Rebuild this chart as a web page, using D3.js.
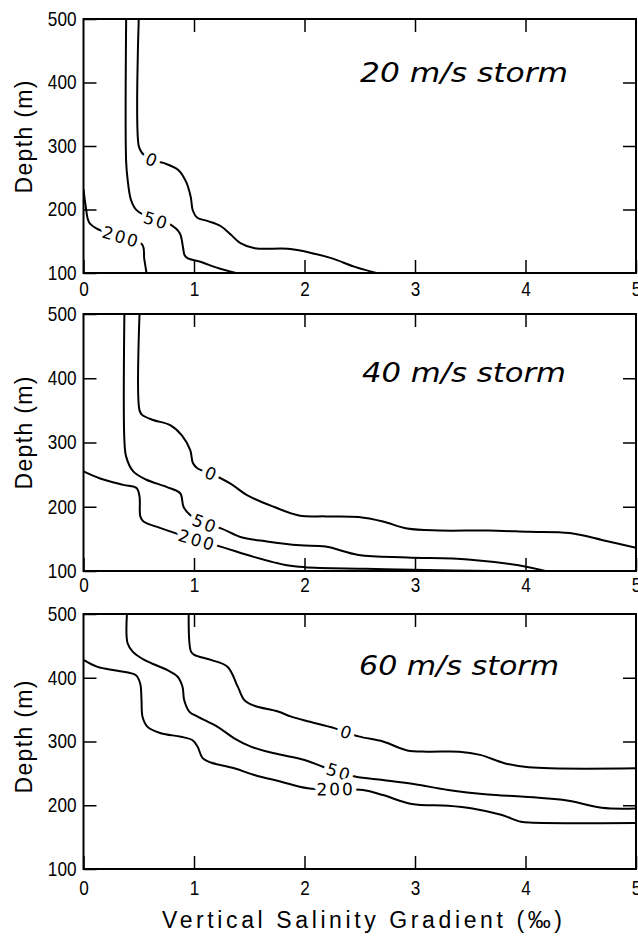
<!DOCTYPE html>
<html><head><meta charset="utf-8">
<script src="https://cdn.jsdelivr.net/npm/d3@7"></script>
<style>body{margin:0;background:#fff}svg{display:block}</style>
</head><body>
<svg id="chart" width="638" height="939"></svg>
<script>
// ---------- data ----------
const xTicks = [0, 1, 2, 3, 4, 5];
const yTicks = [100, 200, 300, 400, 500];
const stormTitles = ["20 m/s storm", "40 m/s storm", "60 m/s storm"];
const contourNames = ["0", "50", "200"];
const xTitle = "Vertical Salinity Gradient (\u2030)";
const yTitle = "Depth (m)";

// [gradient, depth]
const storm20_c0 = [[0.50,500],[0.50,300],[0.53,289],[0.62,278],[0.73,273],[0.86,262],[0.93,243],[0.97,220],[0.99,198],[1.03,187],[1.12,182],[1.24,174],[1.33,161],[1.42,147],[1.55,139],[1.85,138],[2.05,132],[2.25,123],[2.45,110],[2.65,100]];
const storm20_c50 = [[0.386,500],[0.386,275],[0.40,246],[0.43,215],[0.48,199],[0.64,184],[0.78,177],[0.87,163],[0.90,141],[0.915,128],[0.945,123],[1.05,118],[1.23,107],[1.38,100]];
const storm20_c200 = [[0.00,232],[0.02,205],[0.05,180],[0.12,170],[0.34,157],[0.53,145],[0.55,122],[0.57,100]];

const storm40_c0 = [[0.507,500],[0.507,350],[0.53,343],[0.63,335],[0.785,327],[0.89,311],[0.966,288],[0.99,268],[1.03,260],[1.16,251],[1.33,236],[1.48,218],[1.72,200],[1.96,186],[2.19,185],[2.49,184],[2.71,177],[2.93,166],[3.22,163],[3.66,163],[4.03,161],[4.40,159],[4.70,148],[5.00,136]];
const storm40_c50 = [[0.37,500],[0.37,304],[0.386,278],[0.45,255],[0.57,242],[0.75,231],[0.875,221],[0.905,200],[0.965,187],[1.10,174],[1.25,166],[1.42,153],[1.66,146],[1.96,140],[2.19,138],[2.49,125],[2.93,121],[3.48,118],[4.03,106],[4.18,100]];
const storm40_c200 = [[0.00,255],[0.15,244],[0.36,234],[0.48,229],[0.507,216],[0.514,185],[0.543,177],[0.66,169],[1.03,148],[1.24,138],[1.54,122],[1.84,109],[2.00,106],[2.55,103.5],[3.10,101.5],[3.70,100]];

const storm60_c0 = [[0.952,500],[0.973,441],[1.003,436],[1.154,428],[1.305,417],[1.396,386],[1.456,365],[1.547,356],[1.76,347],[1.88,339],[2.05,331],[2.27,321],[2.49,308],[2.71,300],[2.93,286],[3.11,284],[3.40,284],[3.59,279],[3.81,266],[4.03,259.5],[5.00,258]];
const storm60_c50 = [[0.393,500],[0.399,454],[0.445,441],[0.55,428],[0.76,412],[0.85,402],[0.896,386],[0.911,365],[0.957,347],[1.033,339],[1.214,323],[1.364,305],[1.515,292],[1.726,281.5],[2.00,271],[2.166,260.5],[2.457,245],[2.71,239.6],[3.00,233],[3.30,224],[3.66,217],[3.99,213.4],[4.39,207],[4.69,196],[5.00,195]];
const storm60_c200 = [[0.00,428],[0.127,417],[0.308,411],[0.474,404],[0.513,391],[0.525,365],[0.534,339],[0.58,323],[0.70,313],[0.881,307.5],[0.987,302],[1.032,292],[1.078,274],[1.153,267],[1.364,258],[1.546,247.5],[1.788,237],[2.03,226.6],[2.53,224],[2.71,216],[2.97,202],[3.30,199.3],[3.52,195],[3.78,185],[3.96,174],[4.07,172.7],[5.00,172]];

// label anchor positions [gradient, depth] for contours 0, 50, 200
const storm20_labels = [[0.62,277],[0.66,184],[0.34,157]];
const storm40_labels = [[1.16,251],[1.10,174],[1.03,148]];
const storm60_labels = [[2.38,313],[2.31,252],[2.28,223]];

const panelsData = [
  {title: stormTitles[0], curves: [storm20_c0, storm20_c50, storm20_c200], labels: storm20_labels},
  {title: stormTitles[1], curves: [storm40_c0, storm40_c50, storm40_c200], labels: storm40_labels},
  {title: stormTitles[2], curves: [storm60_c0, storm60_c50, storm60_c200], labels: storm60_labels}
];

// ---------- layout ----------
const layout = [
  {top: 19,  bottom: 273, tx: 360, ty: 82,  tw: 208, xpad: 9,  yt: 137},
  {top: 314, bottom: 571, tx: 362, ty: 382, tw: 204, xpad: 7,  yt: 433},
  {top: 614, bottom: 869, tx: 359, ty: 675, tw: 200, xpad: 12, yt: 737}
];
const LEFT = 83.5, RIGHT = 636;
const tickFont = "'Liberation Sans',Arial,sans-serif";

const svg = d3.select("#chart");
svg.append("rect").attr("width", 638).attr("height", 939).attr("fill", "#fff");

const x = d3.scaleLinear().domain([0, 5]).range([LEFT, RIGHT]);

panelsData.forEach((pd, i) => {
  const L = layout[i];
  const y = d3.scaleLinear().domain([100, 500]).range([L.bottom, L.top]);
  const g = svg.append("g");

  const clipId = "clip" + i;
  svg.append("clipPath").attr("id", clipId).append("rect")
    .attr("x", LEFT).attr("y", L.top).attr("width", RIGHT - LEFT).attr("height", L.bottom - L.top);

  // axes
  const styleAxis = sel => {
    sel.select(".domain").remove();
    sel.selectAll(".tick line").attr("stroke", "#000").attr("stroke-width", 1.5);
    sel.selectAll(".tick text").attr("fill", "#000").style("font-family", tickFont).style("font-size", "20px");
  };
  g.append("g").attr("transform", `translate(0,${L.bottom})`)
    .call(d3.axisBottom(x).tickValues(xTicks).tickSize(-13).tickSizeOuter(0).tickPadding(L.xpad).tickFormat(d3.format("d")))
    .call(styleAxis)
    .call(s => s.selectAll(".tick text").attr("transform", "scale(0.86,1)"));
  g.append("g").attr("transform", `translate(0,${L.top})`)
    .call(d3.axisTop(x).tickValues(xTicks.slice(1, -1)).tickSize(-13).tickSizeOuter(0).tickFormat(""))
    .call(styleAxis);
  g.append("g").attr("transform", `translate(${LEFT},0)`)
    .call(d3.axisLeft(y).tickValues(yTicks).tickSize(-13).tickSizeOuter(0).tickPadding(7).tickFormat(d3.format("d")))
    .call(styleAxis)
    .call(s => s.selectAll(".tick text").attr("x", -8.1).attr("transform", "scale(0.86,1)"));
  g.append("g").attr("transform", `translate(${RIGHT},0)`)
    .call(d3.axisRight(y).tickValues(yTicks.slice(1, -1)).tickSize(-13).tickSizeOuter(0).tickFormat(""))
    .call(styleAxis);

  // contours
  const line = d3.line().x(d => x(d[0])).y(d => y(d[1])).curve(d3.curveCatmullRom.alpha(0.5));
  const cg = g.append("g").attr("clip-path", `url(#${clipId})`);
  const paths = pd.curves.map(c => cg.append("path").datum(c)
    .attr("d", line).attr("fill", "none").attr("stroke", "#000").attr("stroke-width", 2).node());

  // frame
  g.append("rect").attr("x", LEFT).attr("y", L.top).attr("width", RIGHT - LEFT).attr("height", L.bottom - L.top)
    .attr("fill", "none").attr("stroke", "#000").attr("stroke-width", 2);

  // contour labels
  pd.labels.forEach((lb, k) => {
    const node = paths[k];
    const px = x(lb[0]), py = y(lb[1]);
    const tot = node.getTotalLength();
    let best = 0, bd = Infinity;
    for (let s = 0; s <= tot; s += 0.5) {
      const p = node.getPointAtLength(s);
      const dd = (p.x - px) ** 2 + (p.y - py) ** 2;
      if (dd < bd) { bd = dd; best = s; }
    }
    const p = node.getPointAtLength(best);
    const a = node.getPointAtLength(Math.max(0, best - 8));
    const b = node.getPointAtLength(Math.min(tot, best + 8));
    let ang = Math.atan2(b.y - a.y, b.x - a.x) * 180 / Math.PI;
    if (ang > 90) ang -= 180;
    if (ang < -90) ang += 180;
    g.append("text")
      .attr("transform", `translate(${p.x},${p.y}) rotate(${ang})`)
      .attr("text-anchor", "middle").attr("dy", "0.36em")
      .style("font-family", "'DejaVu Sans',sans-serif").style("font-size", "17px")
      .style("letter-spacing", "2px")
      .attr("fill", "#000").attr("stroke", "#fff").attr("stroke-width", 9)
      .attr("paint-order", "stroke").attr("stroke-linejoin", "round")
      .text(contourNames[k]);
  });

  // storm title
  g.append("text").attr("x", L.tx).attr("y", L.ty)
    .attr("textLength", L.tw).attr("lengthAdjust", "spacingAndGlyphs")
    .style("font-family", "'DejaVu Sans',sans-serif").style("font-size", "26px").style("font-style", "oblique")
    .attr("fill", "#000").text(pd.title);

  // y title
  svg.append("text").attr("transform", `translate(32,${L.yt}) rotate(-90)`)
    .attr("text-anchor", "middle")
    .attr("textLength", 113).attr("lengthAdjust", "spacing")
    .style("font-family", "'Liberation Sans',sans-serif").style("font-size", "23px")
    .attr("fill", "#000").text(yTitle);
});

// x title
svg.append("text").attr("x", 162).attr("y", 928)
  .attr("textLength", 400).attr("lengthAdjust", "spacing")
  .style("font-family", tickFont).style("font-size", "23px")
  .attr("fill", "#000").text(xTitle);
</script>
</body></html>
